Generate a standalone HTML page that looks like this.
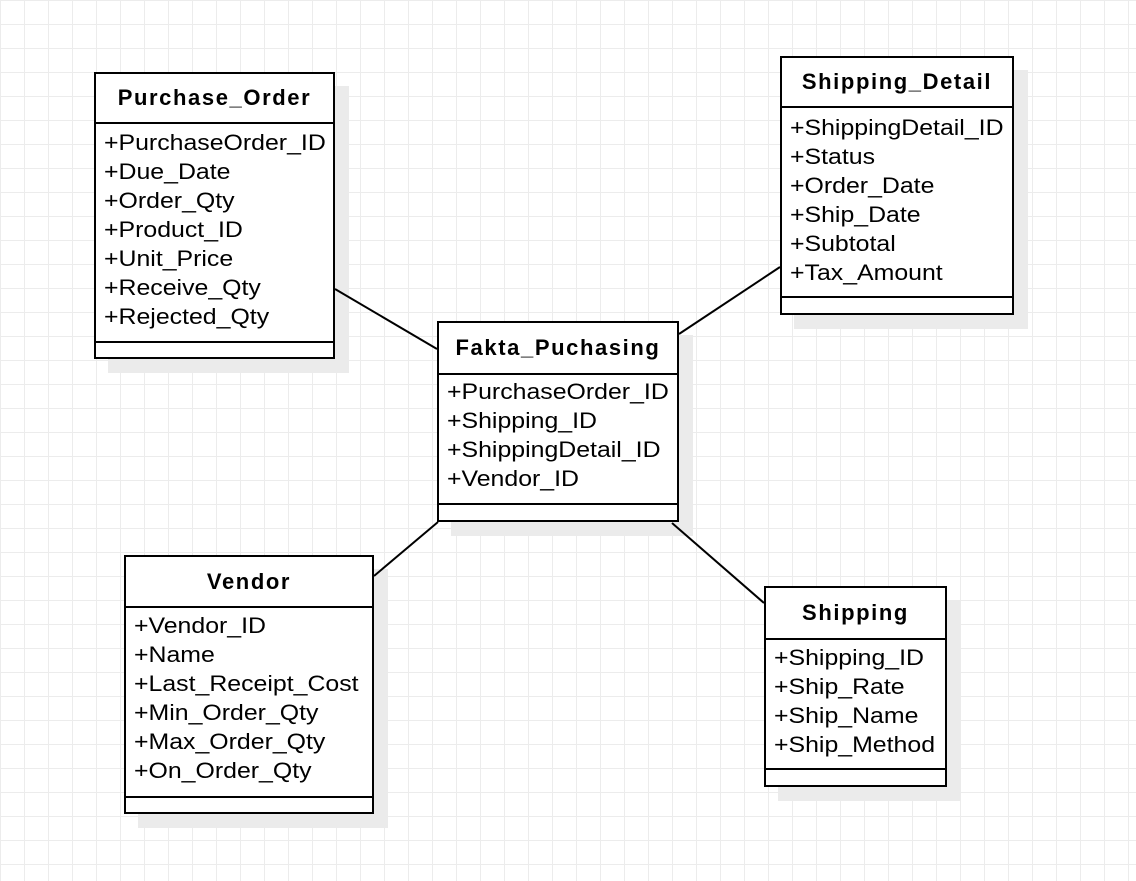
<!DOCTYPE html>
<html><head><meta charset="utf-8"><style>
body{margin:0;width:1136px;height:881px;overflow:hidden;background:#fff;
background-image:linear-gradient(#ececec 1px,transparent 1px),linear-gradient(90deg,#ececec 1px,transparent 1px);background-size:24px 24px;font-family:"Liberation Sans",sans-serif;position:relative}
.b{position:absolute;border:2px solid #000;background:#fff;box-shadow:14px 14px 0 #ebebeb;box-sizing:border-box}
.h{position:absolute;left:0;right:0;top:0;border-bottom:2px solid #000;font-weight:bold;font-size:22px;letter-spacing:1.6px;text-align:center;display:flex;align-items:center;justify-content:center}
.s{position:absolute;left:0;right:0;border-top:2px solid #000}
.r{position:absolute;left:8px;font-size:22px;line-height:29px;white-space:nowrap;transform:scaleX(1.13);transform-origin:0 0}
svg{position:absolute;left:0;top:0;z-index:5}
</style></head><body>
<svg width="1136" height="881"><g stroke="#000" stroke-width="2">
<line x1="335" y1="289" x2="437" y2="349"/>
<line x1="679" y1="334" x2="780" y2="267"/>
<line x1="374" y1="576" x2="438" y2="522"/>
<line x1="672" y1="523" x2="764" y2="603"/>
</g></svg>

<div class="b" style="left:94px;top:72px;width:241px;height:287px">
<div class="h" style="height:48px">Purchase_Order</div>
<div class="r" style="top:54px">+PurchaseOrder_ID<br>+Due_Date<br>+Order_Qty<br>+Product_ID<br>+Unit_Price<br>+Receive_Qty<br>+Rejected_Qty</div>
<div class="s" style="top:267px"></div>
</div>

<div class="b" style="left:780px;top:56px;width:234px;height:259px">
<div class="h" style="height:48px">Shipping_Detail</div>
<div class="r" style="top:55px">+ShippingDetail_ID<br>+Status<br>+Order_Date<br>+Ship_Date<br>+Subtotal<br>+Tax_Amount</div>
<div class="s" style="top:238px"></div>
</div>

<div class="b" style="left:437px;top:321px;width:242px;height:201px">
<div class="h" style="height:50px">Fakta_Puchasing</div>
<div class="r" style="top:54px">+PurchaseOrder_ID<br>+Shipping_ID<br>+ShippingDetail_ID<br>+Vendor_ID</div>
<div class="s" style="top:180px"></div>
</div>

<div class="b" style="left:124px;top:555px;width:250px;height:259px">
<div class="h" style="height:49px">Vendor</div>
<div class="r" style="top:54px">+Vendor_ID<br>+Name<br>+Last_Receipt_Cost<br>+Min_Order_Qty<br>+Max_Order_Qty<br>+On_Order_Qty</div>
<div class="s" style="top:239px"></div>
</div>

<div class="b" style="left:764px;top:586px;width:183px;height:201px">
<div class="h" style="height:50px">Shipping</div>
<div class="r" style="top:55px">+Shipping_ID<br>+Ship_Rate<br>+Ship_Name<br>+Ship_Method</div>
<div class="s" style="top:180px"></div>
</div>
</body></html>
